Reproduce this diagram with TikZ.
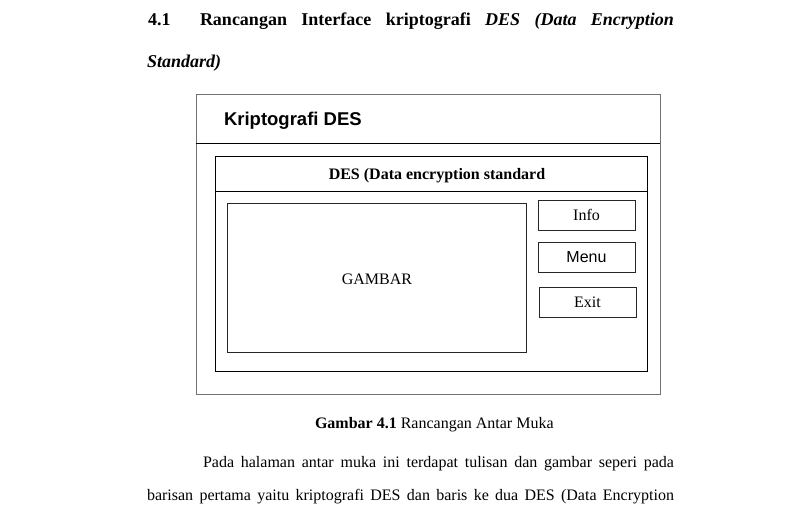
\documentclass[tikz,border=0pt]{standalone}
\usepackage{fontspec}
\setmainfont{Liberation Serif}
\newfontfamily\arialfont{Liberation Sans}
\begin{document}
\begin{tikzpicture}[x=1pt,y=-1pt,
  every node/.style={inner sep=0pt,outer sep=0pt},
  frame/.style={draw=black!55,line width=1pt},
  panel/.style={draw=black,line width=0.8pt},
  btn/.style={draw=black!85,line width=0.9pt,anchor=north west},
  body/.style={font=\fontsize{16}{19}\selectfont,anchor=base west},
  head/.style={font=\fontsize{18}{21}\selectfont\bfseries,anchor=base west}]
\useasboundingbox (0,0) rectangle (785,527);
% heading
\node[head] (num) at (148,26) {4.1};
\node[head] (h1) at (200,26) {\makebox[474pt][s]{Rancangan Interface kriptografi \textit{DES (Data Encryption}}};
\node[head] (h2) at (147,68) {\textit{Standard)}};
% window frame
\node[frame,anchor=north west,minimum width=464pt,minimum height=299pt] (win) at (196,95) {};
\coordinate (tl) at (196,143);
\coordinate (tr) at (660,143);
\draw[panel] (tl) -- (tr);
\node[anchor=base west,font=\arialfont\fontsize{18.5}{21}\selectfont\bfseries] (title) at (224,125) {Kriptografi DES};
% inner panel
\node[panel,anchor=north west,minimum width=432pt,minimum height=215pt] (inner) at (215,156) {};
\coordinate (hl) at (215,191);
\coordinate (hr) at (647,191);
\draw[panel] (hl) -- (hr);
\node[anchor=base,font=\fontsize{16}{19}\selectfont\bfseries] (sub) at (437,179) {DES (Data encryption standard};
% picture area
\node[btn,minimum width=299pt,minimum height=149pt] (pic) at (227,203) {};
\node[anchor=base,font=\fontsize{16}{19}\selectfont] (gambar) at (377,284) {GAMBAR};
% buttons
\node[btn,minimum width=97pt,minimum height=30pt,font=\fontsize{16}{19}\selectfont] (info) at (538,200) {Info};
\node[btn,minimum width=97pt,minimum height=30pt,font=\arialfont\fontsize{16}{19}\selectfont] (menu) at (538,242) {Menu};
\node[btn,minimum width=97pt,minimum height=30pt,font=\fontsize{16}{19}\selectfont] (exit) at (539,287) {Exit};
% caption and text
\node[body] (cap) at (315,428) {\textbf{Gambar 4.1} Rancangan Antar Muka};
\node[body] (p1) at (203,467) {\makebox[471pt][s]{Pada halaman antar muka ini terdapat tulisan dan gambar seperi pada}};
\node[body] (p2) at (147,500) {\makebox[527pt][s]{barisan pertama yaitu kriptografi DES dan baris ke dua DES (Data Encryption}};
\end{tikzpicture}
\end{document}
